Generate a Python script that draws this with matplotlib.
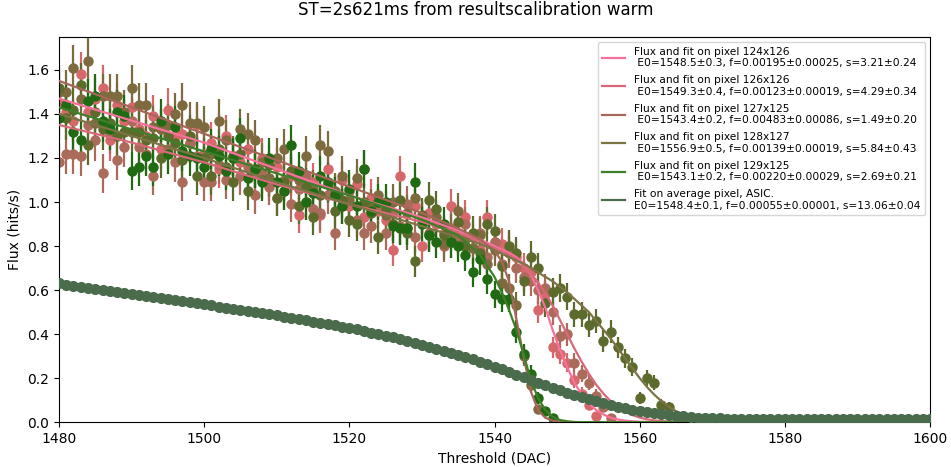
import numpy as np
import matplotlib
matplotlib.use("Agg")
import matplotlib.pyplot as plt

# --- data (flux in hits/s vs threshold in DAC) ---
pixels = ["124x126", "126x126", "127x125", "128x127", "129x125"]
fit_text = ["E0=1548.5\u00b10.3, f=0.00195\u00b10.00025, s=3.21\u00b10.24",
            "E0=1549.3\u00b10.4, f=0.00123\u00b10.00019, s=4.29\u00b10.34",
            "E0=1543.4\u00b10.2, f=0.00483\u00b10.00086, s=1.49\u00b10.20",
            "E0=1556.9\u00b10.5, f=0.00139\u00b10.00019, s=5.84\u00b10.43",
            "E0=1543.1\u00b10.2, f=0.00220\u00b10.00029, s=2.69\u00b10.21"]
avg_text = "E0=1548.4\u00b10.1, f=0.00055\u00b10.00001, s=13.06\u00b10.04"

flux_124x126 = [1.45, 1.41, 1.37, 1.58, 1.41, 1.47, 1.52, 1.28, 1.44, 1.37,
                1.43, 1.33, 1.30, 1.39, 1.24, 1.42, 1.30, 1.31, 1.27, 1.35,
                1.22, 1.27, 1.15, 1.30, 1.21, 1.18, 1.24, 1.13, 1.20, 1.09,
                1.16, 1.05, 1.12, 0.94, 1.00, 1.09, 0.94, 1.15, 1.04, 1.10,
                0.98, 1.08, 0.93, 1.02, 0.96, 0.92, 0.78, 1.12, 0.88, 0.98,
                0.80, 0.95, 0.90, 0.86, 0.98, 0.83, 0.93, 0.84, 0.78, 0.93,
                0.82, 0.81, 0.79, 0.75, 0.70, 0.68, 0.51, 0.58, 0.34, 0.31,
                0.27, 0.19, 0.13, 0.08, 0.03]
flux_126x126 = [1.18, 1.22, 1.22, 1.21, 1.35, 1.28, 1.13, 1.31, 1.19, 1.25,
                1.37, 1.25, 1.22, 1.12, 1.33, 1.24, 1.18, 1.09, 1.27, 1.21,
                1.09, 1.09, 1.17, 1.10, 1.20, 1.12, 1.16, 1.03, 1.13, 1.07,
                1.02, 1.10, 0.99, 1.06, 1.12, 0.97, 0.95, 1.03, 0.86, 0.98,
                1.05, 0.92, 0.86, 0.89, 0.98, 0.86, 0.95, 0.89, 0.99, 0.84,
                0.93, 0.86, 0.91, 0.80, 0.88, 0.84, 0.90, 0.79, 0.86, 0.75,
                0.82, 0.72, 0.77, 0.70, 0.66, 0.64, 0.60, 0.61, 0.50, 0.39,
                0.40, 0.27, 0.22, 0.18, 0.12, 0.07, 0.02]
flux_127x125 = [1.50, 1.50, 1.61, 1.47, 1.64, 1.36, 1.48, 1.48, 1.48, 1.41,
                1.52, 1.44, 1.44, 1.34, 1.33, 1.35, 1.40, 1.44, 1.36, 1.36,
                1.34, 1.22, 1.37, 1.28, 1.21, 1.33, 1.31, 1.28, 1.18, 1.11,
                1.20, 1.24, 1.13, 1.10, 1.21, 1.06, 1.26, 1.23, 1.05, 1.12,
                1.01, 1.11, 1.15, 0.98, 1.03, 0.94, 1.00, 0.88, 0.95, 1.02,
                0.92, 0.85, 0.93, 0.81, 0.87, 0.96, 0.83, 0.79, 0.85, 0.72,
                0.78, 0.63, 0.61, 0.53, 0.30, 0.17, 0.06]
flux_128x127 = [1.52, 1.38, 1.42, 1.53, 1.26, 1.41, 1.33, 1.36, 1.30, 1.32,
                1.32, 1.32, 1.28, 1.29, 1.20, 1.30, 1.27, 1.19, 1.30, 1.12,
                1.20, 1.12, 1.24, 1.16, 1.09, 1.22, 1.05, 1.15, 1.10, 1.17,
                1.02, 1.09, 1.14, 0.98, 1.07, 0.93, 1.03, 1.08, 0.96, 1.01,
                0.92, 0.90, 1.00, 0.95, 0.84, 0.97, 0.90, 1.01, 0.86, 0.73,
                0.94, 1.01, 0.97, 0.85, 0.82, 0.91, 0.80, 0.86, 0.77, 0.90,
                0.87, 0.71, 0.80, 0.77, 0.64, 0.75, 0.70, 0.54, 0.59, 0.61,
                0.57, 0.49, 0.49, 0.44, 0.46, 0.37, 0.41, 0.34, 0.29, 0.25,
                0.11, 0.20, 0.18, 0.08, 0.07, 0.03]
flux_129x125 = [1.38, 1.44, 1.32, 1.28, 1.46, 1.48, 1.37, 1.33, 1.41, 1.39,
                1.14, 1.16, 1.21, 1.16, 1.37, 1.22, 1.34, 1.23, 1.21, 1.20,
                1.16, 1.24, 1.21, 1.14, 1.20, 1.29, 1.11, 1.15, 1.09, 1.20,
                1.09, 1.05, 1.26, 1.14, 1.00, 1.04, 1.12, 1.09, 1.03, 0.98,
                1.06, 0.98, 1.15, 0.96, 1.00, 1.00, 0.89, 0.88, 0.88, 1.09,
                0.90, 0.85, 0.82, 0.90, 0.82, 0.80, 0.76, 0.68, 0.74, 0.65,
                0.58, 0.56, 0.56, 0.41, 0.31, 0.22, 0.11, 0.05, 0.02]
pixel_flux = [flux_124x126, flux_126x126, flux_127x125, flux_128x127, flux_129x125]

# fitted curves
fit_dac = [1480, 1490, 1500, 1510, 1520, 1530, 1535, 1538, 1540, 1541, 1542,
           1543, 1544, 1545, 1546, 1547, 1548, 1549, 1550, 1551, 1552, 1553,
           1554, 1555, 1556, 1557, 1558, 1559, 1560, 1561, 1562, 1563, 1564,
           1565, 1566, 1567, 1568, 1569, 1570, 1575, 1580, 1590, 1600]
fit_124x126 = [1.47, 1.37, 1.27, 1.15, 1.03, 0.93, 0.87, 0.83, 0.80, 0.785, 0.77,
               0.75, 0.72, 0.67, 0.60, 0.52, 0.42, 0.33, 0.25, 0.18, 0.125, 0.085,
               0.055, 0.035, 0.02, 0.012, 0.007, 0.004, 0.002, 0.001, 0.001, 0.0, 0.0,
               0.0, 0.0, 0.0, 0.0, 0.0, 0.0, 0.0, 0.0, 0.0, 0.0]
fit_126x126 = [1.35, 1.27, 1.18, 1.08, 0.99, 0.91, 0.86, 0.82, 0.79, 0.775, 0.76,
               0.74, 0.71, 0.675, 0.635, 0.585, 0.53, 0.465, 0.40, 0.335, 0.275, 0.22,
               0.17, 0.13, 0.095, 0.068, 0.047, 0.032, 0.021, 0.013, 0.008, 0.005, 0.003,
               0.002, 0.001, 0.001, 0.0, 0.0, 0.0, 0.0, 0.0, 0.0, 0.0]
fit_127x125 = [1.55, 1.43, 1.31, 1.19, 1.07, 0.95, 0.88, 0.83, 0.78, 0.73, 0.64,
               0.47, 0.30, 0.14, 0.055, 0.02, 0.007, 0.002, 0.001, 0.0, 0.0, 0.0,
               0.0, 0.0, 0.0, 0.0, 0.0, 0.0, 0.0, 0.0, 0.0, 0.0, 0.0,
               0.0, 0.0, 0.0, 0.0, 0.0, 0.0, 0.0, 0.0, 0.0, 0.0]
fit_128x127 = [1.40, 1.30, 1.20, 1.09, 0.99, 0.89, 0.84, 0.81, 0.78, 0.765, 0.75,
               0.735, 0.72, 0.70, 0.68, 0.66, 0.64, 0.615, 0.59, 0.56, 0.53, 0.50,
               0.46, 0.42, 0.38, 0.335, 0.29, 0.245, 0.20, 0.16, 0.125, 0.095, 0.07,
               0.05, 0.036, 0.025, 0.017, 0.011, 0.007, 0.001, 0.0, 0.0, 0.0]
fit_129x125 = [1.43, 1.33, 1.23, 1.13, 1.03, 0.92, 0.85, 0.76, 0.66, 0.59, 0.51,
               0.42, 0.31, 0.19, 0.11, 0.055, 0.025, 0.01, 0.004, 0.001, 0.0, 0.0,
               0.0, 0.0, 0.0, 0.0, 0.0, 0.0, 0.0, 0.0, 0.0, 0.0, 0.0,
               0.0, 0.0, 0.0, 0.0, 0.0, 0.0, 0.0, 0.0, 0.0, 0.0]
pixel_fit = [fit_124x126, fit_126x126, fit_127x125, fit_128x127, fit_129x125]

# average pixel of the ASIC, one point per DAC from 1480 to 1600
avg_flux = [0.630, 0.625, 0.620, 0.615, 0.611, 0.606, 0.601, 0.596, 0.592, 0.587,
            0.583, 0.578, 0.573, 0.568, 0.564, 0.559, 0.554, 0.549, 0.544, 0.540,
            0.535, 0.530, 0.525, 0.520, 0.515, 0.510, 0.505, 0.500, 0.495, 0.490,
            0.485, 0.479, 0.474, 0.468, 0.463, 0.457, 0.452, 0.446, 0.440, 0.434,
            0.428, 0.421, 0.414, 0.407, 0.400, 0.393, 0.385, 0.377, 0.369, 0.361,
            0.352, 0.343, 0.334, 0.325, 0.315, 0.305, 0.295, 0.285, 0.274, 0.263,
            0.252, 0.240, 0.228, 0.216, 0.204, 0.192, 0.180, 0.168, 0.156, 0.145,
            0.134, 0.124, 0.114, 0.104, 0.095, 0.086, 0.078, 0.070, 0.063, 0.056,
            0.050, 0.045, 0.040, 0.036, 0.032, 0.029, 0.026, 0.023, 0.021, 0.019,
            0.018, 0.017, 0.016, 0.015, 0.015, 0.015, 0.015, 0.015, 0.015, 0.015,
            0.015, 0.015, 0.015, 0.015, 0.015, 0.015, 0.015, 0.015, 0.015, 0.015,
            0.015, 0.015, 0.015, 0.015, 0.015, 0.015, 0.015, 0.015, 0.015, 0.015,
            0.015]

point_colors = ["#d6676a", "#ab6b5a", "#7d6a3e", "#5c6a2c", "#1f6a12"]
line_colors = ["#f7719c", "#d9687a", "#a8665a", "#7b7444", "#3f7f2a"]
avg_color = "#4b6b4d"

fig = plt.figure(figsize=(9.51, 4.67), dpi=100)
ax = fig.add_axes([0.062, 0.096, 0.916, 0.825])

for i in range(len(pixels)):
    y = np.array(pixel_flux[i])
    x = 1480 + np.arange(len(y))
    # poisson-like error bars
    err = 0.082 * np.sqrt(y)
    ax.errorbar(x, y, yerr=err, fmt='o', ms=6.5, color=point_colors[i],
                elinewidth=1.6, capsize=0, zorder=2)
    ax.plot(fit_dac, pixel_fit[i], color=line_colors[i], lw=1.6, zorder=3,
            label="Flux and fit on pixel %s\n %s" % (pixels[i], fit_text[i]))

avg_x = 1480 + np.arange(len(avg_flux))
ax.plot(avg_x, avg_flux, 'o', ms=7, color=avg_color, zorder=4)
ax.plot(avg_x, avg_flux, '-', lw=1.6, color=avg_color, zorder=4,
        label="Fit on average pixel, ASIC.\n" + avg_text)

ax.set_xlim(1480, 1600)
ax.set_ylim(0, 1.75)
ax.set_xticks([1480, 1500, 1520, 1540, 1560, 1580, 1600])
ax.set_yticks([0.0, 0.2, 0.4, 0.6, 0.8, 1.0, 1.2, 1.4, 1.6])
ax.set_xlabel("Threshold (DAC)")
ax.set_ylabel("Flux (hits/s)")
ax.legend(loc='upper right', fontsize=7.7, handlelength=2.2, labelspacing=0.65)
fig.suptitle("ST=2s621ms from resultscalibration warm", y=0.997, fontsize=12)

fig.savefig("out.png", dpi=100)
